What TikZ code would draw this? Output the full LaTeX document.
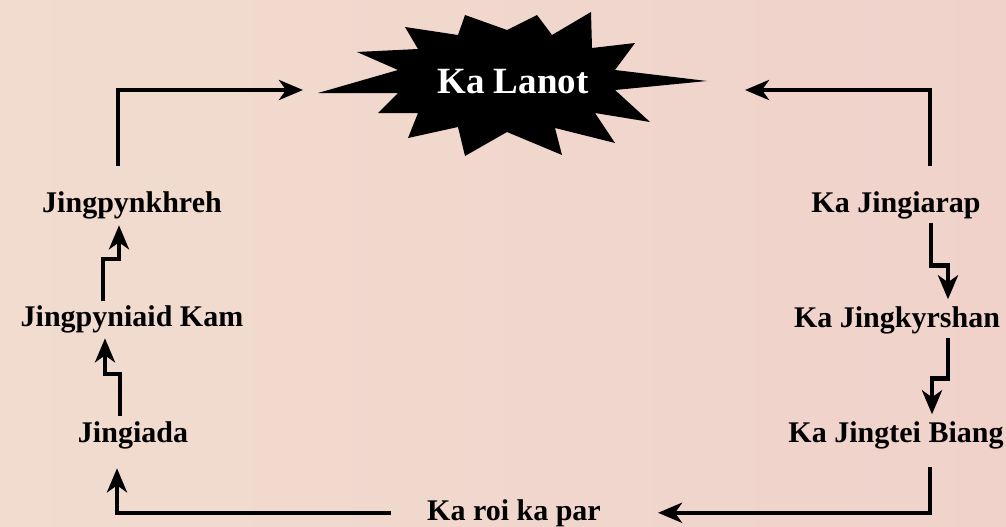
\documentclass[tikz,border=0pt]{standalone}
\usepackage{fontspec}
\setmainfont{Liberation Serif}
\usetikzlibrary{arrows.meta}
\definecolor{bgleft}{HTML}{F1DCCF}
\definecolor{bgright}{HTML}{F0D2CB}

\begin{document}
\begin{tikzpicture}[x=1pt,y=-1pt,
	lbl/.style={anchor=base,inner sep=0pt,font=\fontsize{30}{36}\selectfont\bfseries},
	arr/.style={line width=4.4pt,-{Stealth[length=24pt,width=20pt,inset=7pt]}}]
	\fill[left color=bgleft,right color=bgright] (0,0) rectangle (1006,527);
	\useasboundingbox (0,0) rectangle (1006,527);
	% the burst
	\fill (318,93) -- (398,70) -- (357,52) -- (418,49) -- (405,27) -- (458,35) -- (465,15) -- (507,30)
		-- (537,15) -- (552,35) -- (591,12) -- (592,48) -- (635,43) -- (615,70) -- (707,81) -- (615,90)
		-- (650,122) -- (595,113) -- (615,143) -- (555,128) -- (562,155) -- (507,132) -- (465,156)
		-- (458,127) -- (408,138) -- (418,113) -- (378,113) -- (398,93) -- cycle;
	\node[lbl,text=white,font=\fontsize{37}{44}\selectfont\bfseries] (0) at (513,93) {Ka Lanot};
	\coordinate (burstL) at (303,90);
	\coordinate (burstR) at (745,90);
	% the cycle
	\node[lbl] (1) at (133,442) {Jingiada};
	\node[lbl] (2) at (132,326) {Jingpyniaid Kam};
	\node[lbl] (3) at (132,212) {Jingpynkhreh};
	\node[lbl] (4) at (896,212) {Ka Jingiarap};
	\node[lbl] (5) at (897,327) {Ka Jingkyrshan};
	\node[lbl] (6) at (896,442) {Ka Jingtei Biang};
	\node[lbl] (7) at (514,520) {Ka roi ka par};
	\draw[arr] ([xshift=-14pt,yshift=25pt]3.north) |- (burstL);
	\draw[arr] ([xshift=34pt,yshift=25pt]4.north) |- (burstR);
	\draw[arr] ([xshift=-13pt,yshift=4.7pt]1.north) -- ++(0,-42) -| ([xshift=-27pt,yshift=-5.5pt]2.south);
	\draw[arr] ([xshift=-29pt,yshift=3.7pt]2.north) -- ++(0,-42) -| ([xshift=-13pt,yshift=-6.5pt]3.south);
	\draw[arr] ([xshift=35pt,yshift=-4.5pt]4.south) -- ++(0,42) -| ([xshift=51pt,yshift=6.7pt]5.north);
	\draw[arr] ([xshift=51pt,yshift=-4.5pt]5.south) -- ++(0,40) -| ([xshift=36pt,yshift=6.7pt]6.north);
	\draw[arr] ([xshift=34pt,yshift=-18.5pt]6.south) |- ([xshift=57pt]7.east);
	\draw[arr] ([xshift=-36pt]7.west) -| ([xshift=-16pt,yshift=-19.5pt]1.south);
\end{tikzpicture}
\end{document}
